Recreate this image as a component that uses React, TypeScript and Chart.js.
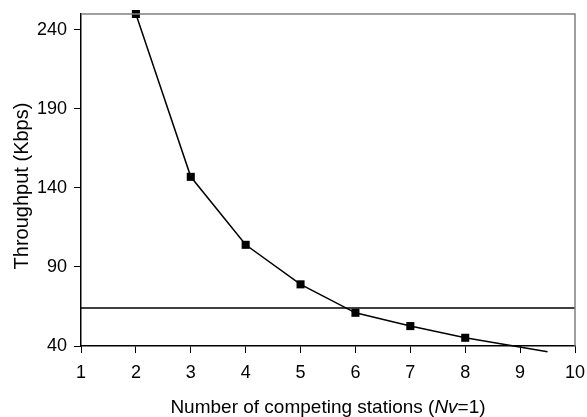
import React, { useEffect, useRef } from "react";
import { Chart, registerables } from "chart.js";

Chart.register(...registerables);

const stations = [2, 3, 4, 5, 6, 7, 8, 9.5];
const throughput = [250, 147, 104, 79, 61, 52.6, 45.2, 36.4];
const markerShown = [true, true, true, true, true, true, true, false];
const thresholdX = [1, 10];
const thresholdY = [64, 64];
const yTicks = [40, 90, 140, 190, 240];
const xTitleParts = [
  { text: "Number of competing stations (", italic: false },
  { text: "Nv", italic: true },
  { text: "=1)", italic: false },
];
const yTitle = "Throughput (Kbps)";

const FONT = "'Liberation Sans', Arial, sans-serif";

function zeroPadding(s: any) {
  s.paddingTop = 0;
  s.paddingBottom = 0;
  s.paddingLeft = 0;
  s.paddingRight = 0;
}

export default function App() {
  const ref = useRef<HTMLCanvasElement | null>(null);

  useEffect(() => {
    document.body.style.margin = "0";
    const canvas = ref.current;
    if (!canvas) return;

    const framePlugin = {
      id: "frame",
      afterDraw(chart: any) {
        const { ctx, chartArea } = chart;
        const { left, right, top, bottom } = chartArea;
        ctx.save();
        ctx.strokeStyle = "#808080";
        ctx.lineWidth = 1.5;
        ctx.beginPath();
        ctx.moveTo(left, top);
        ctx.lineTo(right, top);
        ctx.lineTo(right, bottom);
        ctx.stroke();

        // x title with italic part
        ctx.fillStyle = "#000";
        ctx.textBaseline = "middle";
        const size = 19;
        let total = 0;
        const widths = xTitleParts.map((p) => {
          ctx.font = `${p.italic ? "italic " : ""}${size}px ${FONT}`;
          const w = ctx.measureText(p.text).width;
          total += w;
          return w;
        });
        let x = (left + right) / 2 - total / 2;
        const y = 408;
        xTitleParts.forEach((p, i) => {
          ctx.font = `${p.italic ? "italic " : ""}${size}px ${FONT}`;
          ctx.textAlign = "left";
          ctx.fillText(p.text, x, y);
          x += widths[i];
        });

        // y title
        ctx.translate(22, 186);
        ctx.rotate(-Math.PI / 2);
        ctx.font = `20px ${FONT}`;
        ctx.textAlign = "center";
        ctx.fillText(yTitle, 0, 0);
        ctx.restore();
      },
    };

    const chart = new Chart(canvas, {
      type: "line",
      data: {
        datasets: [
          {
            data: stations.map((s, i) => ({ x: s, y: throughput[i] })),
            borderColor: "#000",
            backgroundColor: "#000",
            borderWidth: 1.5,
            pointStyle: "rect",
            pointRadius: markerShown.map((m) => (m ? 5.7 : 0)),
            pointBorderWidth: 0,
            pointBackgroundColor: "#000",
            tension: 0,
            clip: false,
          },
          {
            data: thresholdX.map((v, i) => ({ x: v, y: thresholdY[i] })),
            borderColor: "#000",
            borderWidth: 1.5,
            pointRadius: 0,
            tension: 0,
          },
        ],
      },
      options: {
        responsive: false,
        animation: false,
        layout: { autoPadding: false, padding: { top: 14, right: 12, left: 0, bottom: 0 } },
        plugins: {
          legend: { display: false },
          tooltip: { enabled: false },
        },
        scales: {
          x: {
            type: "linear",
            min: 1,
            max: 10,
            ticks: {
              stepSize: 1,
              color: "#000",
              font: { family: FONT, size: 18 },
              padding: 9,
              maxRotation: 0,
            },
            grid: {
              drawOnChartArea: false,
              drawTicks: true,
              tickLength: 7,
              color: "#000",
            },
            border: { color: "#000", width: 1.5 },
            afterFit: (s: any) => {
              s.height = 71;
              zeroPadding(s);
            },
          },
          y: {
            min: 40,
            max: 250,
            afterBuildTicks: (s: any) => {
              s.ticks = yTicks.map((v) => ({ value: v }));
            },
            ticks: {
              color: "#000",
              font: { family: FONT, size: 18 },
              padding: 7,
            },
            grid: {
              drawOnChartArea: false,
              drawTicks: true,
              tickLength: 7,
              color: "#000",
            },
            border: { color: "#000", width: 1.5 },
            afterFit: (s: any) => {
              s.width = 81;
              zeroPadding(s);
            },
          },
        },
      },
      plugins: [framePlugin],
    });

    return () => chart.destroy();
  }, []);

  return (
    <div style={{ position: "absolute", left: 0, top: 0, width: 587, height: 417, background: "#fff" }}>
      <canvas ref={ref} width={587} height={417} />
    </div>
  );
}
